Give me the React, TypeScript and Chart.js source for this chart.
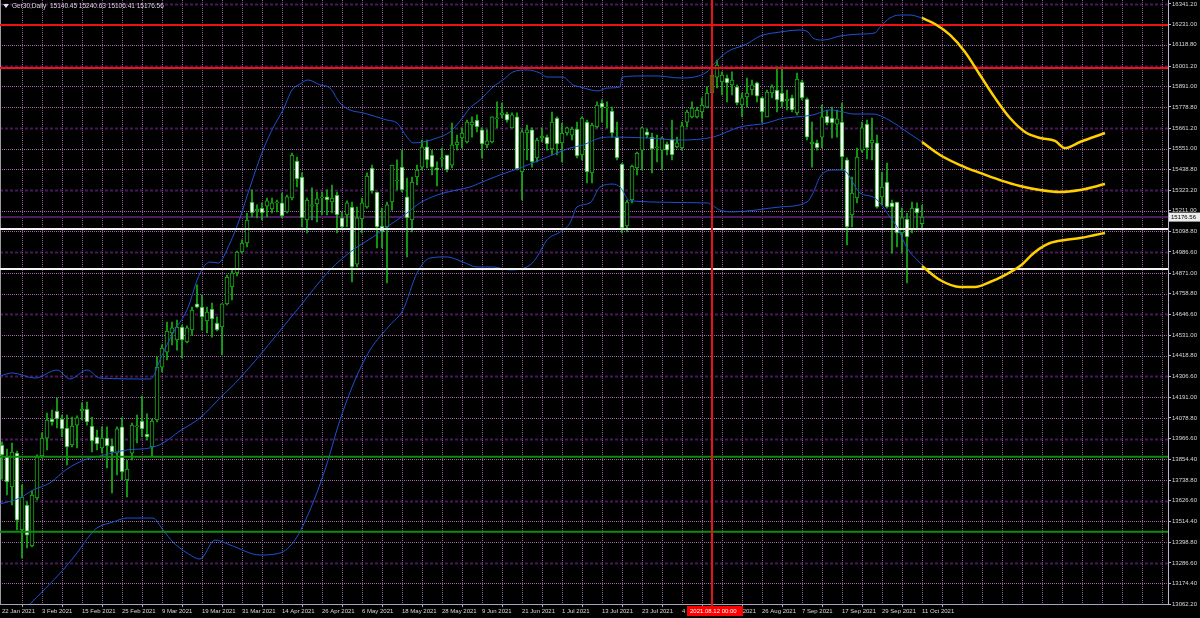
import React, { useEffect, useRef } from "react";
import { Chart, registerables } from "chart.js";

Chart.register(...registerables);

// ---------------- data ----------------
const symbolTitle = "Ger30,Daily";

const openValues = [
  13931, 13871, 13702, 13887, 13467, 13603, 13379, 13642, 13871, 13969,
  14073, 14117, 14073, 14024, 13931, 14040, 14117, 14128, 14035, 13975,
  13915, 13969, 13926, 13887, 14030, 13740, 13887, 14030, 14062, 13991,
  13920, 14068, 14357, 14439, 14543, 14505, 14576, 14494, 14560, 14702,
  14685, 14609, 14674, 14598, 14576, 14702, 14795, 14871, 14986, 15035,
  15259, 15210, 15226, 15237, 15221, 15254, 15254, 15205, 15281, 15483,
  15396, 15161, 15237, 15248, 15281, 15287, 15259, 15297, 15172, 15188,
  15232, 14920, 15166, 15232, 15445, 15314, 15128, 15123, 15259, 15374,
  15450, 15287, 15161, 15396, 15450, 15560, 15516, 15445, 15494, 15516,
  15461, 15571, 15609, 15587, 15680, 15707, 15653, 15571, 15587, 15713,
  15735, 15740, 15664, 15724, 15423, 15636, 15653, 15500, 15609, 15614,
  15549, 15718, 15582, 15636, 15625, 15658, 15516, 15696, 15418, 15669,
  15800, 15773, 15756, 15614, 15467, 15128, 15270, 15445, 15543, 15642,
  15614, 15554, 15543, 15576, 15603, 15560, 15554, 15696, 15724, 15724,
  15751, 15778, 15855, 15942, 15915, 15937, 15899, 15888, 15789, 15833,
  15871, 15910, 15828, 15724, 15855, 15871, 15855, 15811, 15828, 15746,
  15915, 15822, 15576, 15582, 15614, 15729, 15718, 15685, 15696, 15489,
  15188, 15281, 15543, 15685, 15582, 15582, 15287, 15368, 15254, 15259,
  15090, 15166, 15106, 15226, 15140.45,
];

const highValues = [
  13948, 13909, 13942, 13898, 13713, 13620, 13680, 13877, 13997, 14106,
  14122, 14188, 14095, 14095, 14084, 14090, 14161, 14166, 14084, 14013,
  14030, 14030, 13964, 14030, 14079, 13849, 14051, 14095, 14199, 14101,
  14073, 14412, 14478, 14603, 14603, 14614, 14587, 14582, 14685, 14806,
  14751, 14685, 14707, 14631, 14702, 14860, 14888, 14991, 15052, 15199,
  15325, 15243, 15254, 15281, 15281, 15270, 15308, 15297, 15527, 15505,
  15418, 15281, 15336, 15314, 15314, 15325, 15352, 15314, 15205, 15265,
  15259, 15232, 15281, 15418, 15461, 15314, 15226, 15259, 15461, 15489,
  15543, 15390, 15396, 15461, 15598, 15598, 15543, 15478, 15554, 15516,
  15691, 15625, 15664, 15707, 15724, 15735, 15664, 15653, 15724, 15806,
  15800, 15751, 15746, 15746, 15653, 15680, 15664, 15609, 15664, 15625,
  15751, 15724, 15691, 15669, 15669, 15696, 15724, 15707, 15691, 15806,
  15817, 15806, 15778, 15696, 15472, 15270, 15461, 15532, 15669, 15658,
  15636, 15625, 15614, 15587, 15707, 15614, 15696, 15762, 15806, 15778,
  15828, 15888, 16019, 16035, 15970, 15953, 15970, 15899, 15855, 15937,
  15926, 15915, 15833, 15871, 15899, 15997, 15997, 15871, 15844, 15964,
  15926, 15828, 15696, 15598, 15789, 15762, 15778, 15762, 15800, 15500,
  15396, 15554, 15696, 15707, 15718, 15625, 15423, 15472, 15270, 15259,
  15226, 15199, 15259, 15254, 15240.63,
];

const lowValues = [
  13745, 13658, 13603, 13467, 13314, 13368, 13374, 13631, 13860, 13904,
  14040, 14024, 13975, 13822, 13920, 13915, 14068, 14040, 13893, 13904,
  13887, 13806, 13669, 13767, 13740, 13647, 13849, 13942, 13975, 13959,
  13866, 14057, 14330, 14396, 14478, 14450, 14407, 14489, 14532, 14680,
  14560, 14543, 14521, 14554, 14423, 14696, 14724, 14855, 14980, 15013,
  15177, 15172, 15161, 15177, 15199, 15205, 15172, 15199, 15270, 15341,
  15123, 15090, 15161, 15150, 15188, 15188, 15199, 15090, 15117, 15123,
  14822, 14904, 15090, 15226, 15308, 15008, 15008, 14817, 15215, 15325,
  15314, 14959, 15095, 15352, 15434, 15445, 15407, 15347, 15450, 15423,
  15445, 15543, 15554, 15582, 15614, 15642, 15500, 15554, 15582, 15664,
  15718, 15696, 15664, 15434, 15270, 15489, 15450, 15478, 15587, 15543,
  15516, 15516, 15478, 15625, 15598, 15500, 15489, 15363, 15363, 15664,
  15696, 15664, 15614, 15489, 15090, 15095, 15254, 15407, 15434, 15609,
  15418, 15478, 15434, 15516, 15489, 15554, 15543, 15669, 15718, 15718,
  15718, 15773, 15844, 15882, 15844, 15806, 15844, 15789, 15724, 15778,
  15844, 15806, 15696, 15724, 15828, 15751, 15778, 15762, 15751, 15735,
  15817, 15598, 15450, 15543, 15554, 15680, 15609, 15614, 15434, 15024,
  15123, 15254, 15532, 15494, 15489, 15226, 15243, 15226, 14980, 15013,
  14980, 14817, 15090, 15106, 15106.41,
];

const closeValues = [
  13877, 13729, 13893, 13521, 13647, 13439, 13658, 13866, 13969, 14068,
  14057, 14073, 14019, 13920, 14035, 14079, 14128, 14057, 13953, 13937,
  13969, 13926, 13893, 14019, 13784, 13800, 14040, 14035, 14019, 13975,
  14062, 14357, 14461, 14554, 14571, 14576, 14505, 14571, 14669, 14685,
  14631, 14658, 14620, 14560, 14702, 14849, 14871, 14986, 15035, 15161,
  15199, 15221, 15199, 15265, 15254, 15259, 15183, 15287, 15516, 15385,
  15172, 15270, 15243, 15276, 15287, 15270, 15281, 15188, 15123, 15254,
  14904, 15172, 15254, 15401, 15319, 15123, 15095, 15243, 15461, 15379,
  15325, 15172, 15368, 15434, 15560, 15489, 15450, 15434, 15500, 15434,
  15571, 15587, 15636, 15696, 15696, 15669, 15576, 15593, 15724, 15718,
  15746, 15707, 15735, 15440, 15642, 15653, 15478, 15598, 15620, 15576,
  15696, 15576, 15636, 15664, 15658, 15511, 15718, 15423, 15680, 15789,
  15778, 15778, 15636, 15500, 15117, 15259, 15456, 15527, 15664, 15625,
  15549, 15560, 15609, 15543, 15516, 15582, 15675, 15751, 15773, 15762,
  15789, 15855, 15953, 16008, 15953, 15910, 15926, 15800, 15828, 15855,
  15899, 15838, 15751, 15860, 15888, 15817, 15806, 15822, 15762, 15931,
  15828, 15614, 15587, 15554, 15724, 15691, 15691, 15713, 15505, 15123,
  15308, 15505, 15664, 15554, 15598, 15232, 15341, 15232, 15232, 15090,
  15172, 15068, 15226, 15199, 15176.56,
];

// Bollinger bands (bar index, price)
const upperBandIndex = [
  -0.4, 2, 6.6, 11, 13.6, 17, 19.6, 29.6, 30.2, 31.6, 34.2, 37, 39.6, 41.6, 43.2, 45.6, 47.6, 49.6, 52.2,
  54.2, 56.2, 58, 59.6, 61.2, 63.6, 65.6, 67.6, 69.6, 72.2, 75, 77, 79, 81, 82.2, 84.2, 87, 89.6, 91.6,
  93.6, 95.6, 98.2, 100.2, 102.2, 105, 107.6, 109, 112.2, 114.2, 115.6, 119.2, 121, 123.6, 124, 128.2,
  131, 135.6, 141, 142.2, 145, 149, 150.2, 151.6, 155.6, 159.6, 161.2, 162.2, 164.2, 167.6, 171.6,
  174.6, 175.6, 177.6, 179.6, 181.6, 184,
];
const upperBandValue = [
  14308, 14325, 14297, 14341, 14292, 14341, 14297, 14292, 14303, 14396, 14543, 14669, 14871, 14931,
  14926, 15035, 15172, 15341, 15543, 15664, 15762, 15871, 15904, 15926, 15899, 15882, 15800, 15762,
  15746, 15724, 15707, 15691, 15614, 15582, 15587, 15609, 15642, 15702, 15773, 15817, 15888, 15926,
  15970, 15981, 15964, 15942, 15942, 15899, 15888, 15866, 15882, 15888, 15942, 15948, 15948, 15937,
  15970, 16008, 16079, 16123, 16144, 16166, 16188, 16199, 16188, 16155, 16144, 16166, 16177, 16183,
  16215, 16265, 16281, 16281, 16265,
];
const middleBandIndex = [
  -0.4, 3.6, 6.2, 9.6, 13, 17, 19.6, 25, 29.6, 32.2, 35.6, 39.6, 43.6, 47.6, 59, 65.6, 70.2, 74.2, 77,
  81, 83.6, 87, 91, 93.6, 95.6, 99.6, 103.6, 107.6, 111, 113.6, 116.2, 119.6, 122.2, 129, 135.6, 142.2,
  147.6, 153, 155.6, 162.2, 165.6, 168.2, 170.2, 174.2, 176.2, 179, 181, 184,
];
const middleBandValue = [
  13609, 13642, 13685, 13724, 13800, 13855, 13871, 13904, 13915, 13942, 14008, 14079, 14188, 14297,
  14669, 14888, 14997, 15068, 15123, 15199, 15254, 15297, 15325, 15341, 15363, 15407, 15445, 15489,
  15527, 15554, 15571, 15609, 15614, 15609, 15598, 15614, 15669, 15691, 15713, 15735, 15762, 15751,
  15740, 15740, 15724, 15680, 15642, 15587,
];
const lowerBandIndex = [
  5.2, 12.2, 15, 17.6, 19, 22.2, 25, 30.2, 32.2, 34.2, 37, 39.6, 42.6, 45.6, 51.6, 55.6, 58.6, 61.6,
  64.6, 67.6, 70.6, 73.6, 77.6, 80.2, 83, 85.6, 89, 92.2, 95, 98.2, 101.6, 105.6, 107, 109, 111.6,
  113.6, 115, 117.6, 119.6, 122.2, 123.6, 125.6, 141, 143.6, 146.2, 155.6, 161, 162.2, 163.6, 166.2,
  168.2, 171.6, 174.2, 175.6, 177.6, 179, 181, 184,
];
const lowerBandValue = [
  13051, 13248, 13341, 13439, 13478, 13510, 13532, 13532, 13467, 13401, 13341, 13308, 13412, 13385,
  13330, 13341, 13412, 13576, 13795, 14068, 14286, 14450, 14587, 14669, 14871, 14953, 14959, 14931,
  14904, 14904, 14888, 14915, 14959, 15052, 15095, 15144, 15232, 15254, 15341, 15357, 15341, 15265,
  15254, 15215, 15205, 15232, 15259, 15308, 15396, 15434, 15434, 15308, 15287, 15254, 15177, 15123,
  15008, 14915,
];

// yellow projection curves
const upperForecastIndex = [184, 186.6, 189.6, 192.6, 195.6, 198.6, 201.6, 204.6, 207.6, 210.6, 212.6, 215.6, 220.6];
const upperForecastValue = [16265, 16232, 16172, 16079, 15953, 15828, 15718, 15642, 15609, 15593, 15554, 15587, 15636];
const middleForecastIndex = [184, 187.6, 191.6, 195.6, 199.6, 203.6, 207.6, 211.6, 215.6, 220.6];
const middleForecastValue = [15587, 15516, 15461, 15418, 15379, 15347, 15325, 15314, 15325, 15357];
const lowerForecastIndex = [184, 187.6, 191.6, 194.6, 197.6, 200.6, 203.6, 206.6, 209.6, 212.6, 215.6, 218.6, 220.6];
const lowerForecastValue = [14909, 14833, 14795, 14795, 14822, 14860, 14909, 14986, 15035, 15052, 15062, 15079, 15090];

// horizontal levels
const redLevels = [16226, 15991];
const whiteLevels = [15111, 14893];
const greenLevels = [13867, 13457];

// vertical marker
const markerIndex = 142;
const markerLabel = "2021.08.12 00:00";

// axes
const priceTicks = [
  16341.2, 16231.0, 16118.8, 16001.2, 15891.0, 15778.8, 15661.2, 15551.0, 15438.8, 15323.2,
  15211.0, 15098.8, 14986.6, 14871.0, 14758.8, 14646.6, 14531.0, 14418.8, 14306.6, 14191.0,
  14078.8, 13966.6, 13854.4, 13738.8, 13626.6, 13514.4, 13398.8, 13286.6, 13174.4, 13062.2,
];
const dateTickIndex = [0, 8, 16, 24, 32, 40, 48, 56, 64, 72, 80, 88, 96, 104, 112, 120, 128, 136, 144, 152, 160, 168, 176, 184];
const dateTickLabels = [
  "22 Jan 2021", "3 Feb 2021", "15 Feb 2021", "25 Feb 2021", "9 Mar 2021", "19 Mar 2021",
  "31 Mar 2021", "14 Apr 2021", "26 Apr 2021", "6 May 2021", "18 May 2021", "28 May 2021",
  "9 Jun 2021", "21 Jun 2021", "1 Jul 2021", "13 Jul 2021", "23 Jul 2021", "4 Aug 2021",
  "16 Aug 2021", "26 Aug 2021", "7 Sep 2021", "17 Sep 2021", "29 Sep 2021", "11 Oct 2021",
];

// ---------------- styling ----------------
const X_MIN = -0.4;
const X_MAX = 233.2;
const Y_MIN = 13062.2;
const Y_MAX = 16363.06;
const GRID_STEP = 4;

const FONT = "'Liberation Sans', Arial, sans-serif";
const CANDLE_GREEN = "#18b018";
const BAND_BLUE = "#2050d0";
const YELLOW = "#ffd000";
const GRID_LAVENDER = "#8f86d2";
const GRID_PINK = "#b24a78";
const GRID_V_LAVENDER = "#7a72b8";
const GRID_V_PINK = "#963e66";
const GRID_DARK = "#4a165c";
const TEXT = "#d8d8d8";

const pairs = (xs: number[], ys: number[]) => xs.map((x, k) => ({ x, y: ys[k] }));

const levelLine = (value: number, color: string) => ({
  type: "line" as const,
  data: [
    { x: X_MIN, y: value },
    { x: X_MAX, y: value },
  ],
  borderColor: color,
  borderWidth: 2,
  pointRadius: 0,
  order: 2,
});

const curve = (xs: number[], ys: number[], color: string, width: number, order: number) => ({
  type: "line" as const,
  data: pairs(xs, ys),
  borderColor: color,
  borderWidth: width,
  pointRadius: 0,
  cubicInterpolationMode: "monotone" as const,
  order,
});

function stroke(ctx: CanvasRenderingContext2D, x1: number, y1: number, x2: number, y2: number) {
  ctx.beginPath();
  ctx.moveTo(x1, y1);
  ctx.lineTo(x2, y2);
  ctx.stroke();
}

function dotted(ctx: CanvasRenderingContext2D, x1: number, y1: number, x2: number, y2: number, c1: string, c2: string) {
  ctx.lineWidth = 1;
  ctx.setLineDash([1, 3]);
  ctx.lineDashOffset = 0;
  ctx.strokeStyle = c1;
  stroke(ctx, x1, y1, x2, y2);
  ctx.lineDashOffset = -2;
  ctx.strokeStyle = c2;
  stroke(ctx, x1, y1, x2, y2);
  ctx.lineDashOffset = 0;
}

const mt4Plugin = {
  id: "mt4Look",
  beforeDraw(chart: any) {
    const { ctx, width, height } = chart;
    ctx.save();
    ctx.fillStyle = "#000000";
    ctx.fillRect(0, 0, width, height);
    ctx.restore();
  },
  beforeDatasetsDraw(chart: any) {
    const { ctx, chartArea: a, scales } = chart;
    const xs = scales.x;
    const ys = scales.y;
    ctx.save();
    priceTicks.forEach((v, k) => {
      if (k === priceTicks.length - 1) return;
      const py = Math.round(ys.getPixelForValue(v)) + 0.5;
      if (k % 3 === 0) {
        ctx.setLineDash([3, 2]);
        ctx.lineWidth = 2;
        ctx.strokeStyle = GRID_DARK;
        stroke(ctx, a.left, py, a.right, py);
      } else {
        dotted(ctx, a.left, py, a.right, py, GRID_LAVENDER, GRID_PINK);
      }
    });
    for (let i = GRID_STEP; i < X_MAX; i += GRID_STEP) {
      const px = Math.round(xs.getPixelForValue(i)) + 0.5;
      if (px >= a.right - 1) break;
      dotted(ctx, px, a.top, px, a.bottom, GRID_V_LAVENDER, GRID_V_PINK);
    }
    ctx.setLineDash([]);
    const lastClose = closeValues[closeValues.length - 1];
    const by = Math.round(ys.getPixelForValue(lastClose));
    ctx.strokeStyle = "#4c1a5c";
    ctx.lineWidth = 2;
    stroke(ctx, a.left, by, a.right, by);
    ctx.strokeStyle = "#9a9aa4";
    ctx.lineWidth = 1;
    stroke(ctx, 0.5, a.top, 0.5, a.bottom);
    ctx.restore();
  },
  afterDatasetsDraw(chart: any) {
    const { ctx, chartArea: a, scales } = chart;
    const mx = Math.round(scales.x.getPixelForValue(markerIndex));
    ctx.save();
    ctx.strokeStyle = "#e8141a";
    ctx.lineWidth = 2;
    stroke(ctx, mx, a.top, mx, a.bottom + 3);
    ctx.restore();
  },
  afterDraw(chart: any) {
    const { ctx, chartArea: a, scales } = chart;
    const xs = scales.x;
    const ys = scales.y;
    ctx.save();
    const mx = Math.round(xs.getPixelForValue(markerIndex));
    ctx.fillStyle = "#ff0000";
    ctx.fillRect(mx - 25, a.bottom + 2, 56, 10);
    ctx.fillStyle = "#ffffff";
    ctx.font = `6px ${FONT}`;
    ctx.textBaseline = "middle";
    ctx.textAlign = "left";
    ctx.fillText(markerLabel, mx - 22, a.bottom + 7.5);
    const lastClose = closeValues[closeValues.length - 1];
    const by = ys.getPixelForValue(lastClose);
    ctx.fillStyle = "#ececec";
    ctx.fillRect(a.right + 1, by - 4.5, 31, 9);
    ctx.fillStyle = "#000000";
    ctx.fillText(lastClose.toFixed(2), a.right + 3, by + 0.5);
    ctx.fillStyle = "#e0e0e0";
    ctx.beginPath();
    ctx.moveTo(3, 4);
    ctx.lineTo(9, 4);
    ctx.lineTo(6, 8);
    ctx.closePath();
    ctx.fill();
    const n = closeValues.length - 1;
    const header = `${symbolTitle}  ${openValues[n].toFixed(2)} ${highValues[n].toFixed(2)} ${lowValues[n].toFixed(2)} ${closeValues[n].toFixed(2)}`;
    ctx.fillStyle = TEXT;
    ctx.font = `6.5px ${FONT}`;
    ctx.fillText(header, 12, 6.5);
    ctx.restore();
  },
};

export default function App() {
  const canvasRef = useRef<HTMLCanvasElement | null>(null);

  useEffect(() => {
    document.body.style.margin = "0";
    document.body.style.background = "#000000";
    const canvas = canvasRef.current;
    if (!canvas) return;

    const idx = closeValues.map((_, i) => i);
    const wickData = idx.map((i) => ({ x: i, y: [lowValues[i], highValues[i]] }));
    const bodyData = idx.map((i) => ({ x: i, y: [openValues[i], closeValues[i]] }));
    const bodyFill = idx.map((i) => (closeValues[i] < openValues[i] ? "#ffffff" : "#000000"));

    const chart = new Chart(canvas, {
      type: "bar",
      data: {
        datasets: [
          {
            type: "bar",
            data: wickData as any,
            backgroundColor: CANDLE_GREEN,
            borderWidth: 0,
            barThickness: 1,
            grouped: false,
            order: 6,
          } as any,
          {
            type: "bar",
            data: bodyData as any,
            backgroundColor: bodyFill,
            borderColor: CANDLE_GREEN,
            borderWidth: 1,
            borderSkipped: false,
            barThickness: 4,
            minBarLength: 1,
            grouped: false,
            order: 5,
          } as any,
          curve(upperBandIndex, upperBandValue, BAND_BLUE, 1, 4),
          curve(middleBandIndex, middleBandValue, BAND_BLUE, 1, 4),
          curve(lowerBandIndex, lowerBandValue, BAND_BLUE, 1, 4),
          ...redLevels.map((v) => levelLine(v, "#ee1111")),
          ...whiteLevels.map((v) => levelLine(v, "#f4f4f4")),
          ...greenLevels.map((v) => levelLine(v, "#0f8c0f")),
          curve(upperForecastIndex, upperForecastValue, YELLOW, 2.5, 1),
          curve(middleForecastIndex, middleForecastValue, YELLOW, 2.5, 1),
          curve(lowerForecastIndex, lowerForecastValue, YELLOW, 2.5, 1),
        ] as any,
      },
      options: {
        responsive: false,
        animation: false,
        devicePixelRatio: 1,
        events: [],
        layout: { padding: 0 },
        plugins: { legend: { display: false }, tooltip: { enabled: false } },
        scales: {
          x: {
            type: "linear",
            position: "bottom",
            min: X_MIN,
            max: X_MAX,
            offset: false,
            afterBuildTicks: (s: any) => {
              s.ticks = dateTickIndex.map((v) => ({ value: v }));
            },
            afterFit: (s: any) => {
              s.height = 14;
              s.paddingLeft = 0;
              s.paddingRight = 0;
            },
            ticks: {
              autoSkip: false,
              maxRotation: 0,
              minRotation: 0,
              align: "start",
              padding: 1,
              color: TEXT,
              font: { family: FONT, size: 6 },
              callback: (v: any) => {
                const k = dateTickIndex.indexOf(Number(v));
                return k >= 0 ? dateTickLabels[k] : "";
              },
            },
            grid: { drawOnChartArea: false, tickLength: 3, color: "#a4a4c0" },
            border: { color: "#a4a4c0", width: 1 },
          },
          y: {
            type: "linear",
            position: "right",
            min: Y_MIN,
            max: Y_MAX,
            afterBuildTicks: (s: any) => {
              s.ticks = priceTicks.map((v) => ({ value: v }));
            },
            afterFit: (s: any) => {
              s.width = 32;
              s.paddingTop = 0;
              s.paddingBottom = 0;
            },
            ticks: {
              autoSkip: false,
              padding: 1,
              color: TEXT,
              font: { family: FONT, size: 6 },
              callback: (v: any) => Number(v).toFixed(2),
            },
            grid: { drawOnChartArea: false, tickLength: 3, color: "#b4b8c8" },
            border: { color: "#b4b8c8", width: 1 },
          },
        },
      } as any,
      plugins: [mt4Plugin],
    });

    return () => chart.destroy();
  }, []);

  return (
    <div style={{ width: 1200, height: 618, background: "#000000" }}>
      <canvas ref={canvasRef} width={1200} height={618} style={{ display: "block", width: 1200, height: 618 }} />
    </div>
  );
}
